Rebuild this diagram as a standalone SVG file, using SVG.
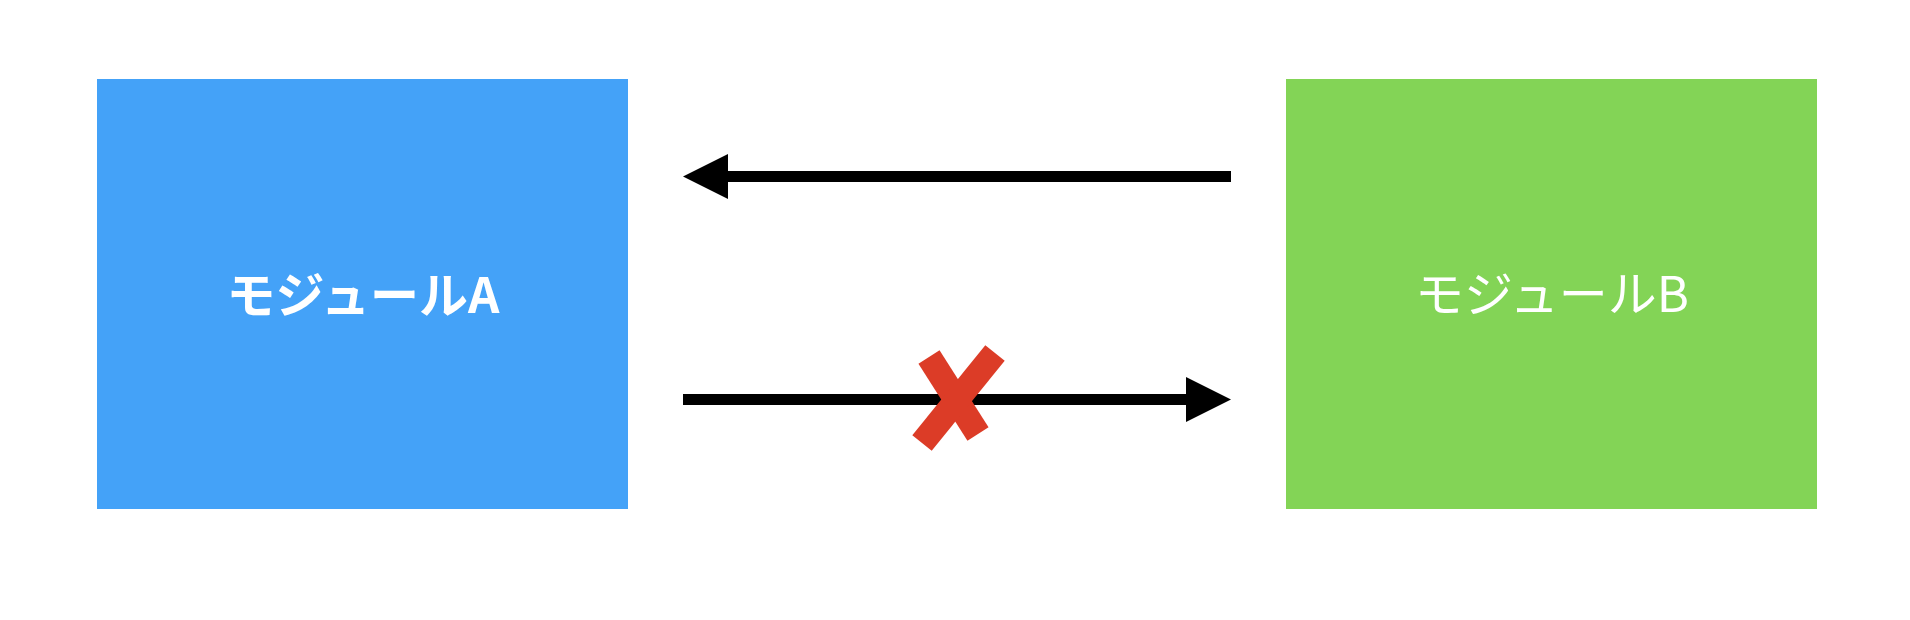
<svg xmlns="http://www.w3.org/2000/svg" width="1910" height="620" viewBox="0 0 1910 620">
<style>
.lbl{font-family:"Noto Sans CJK JP","Noto Sans",sans-serif;font-size:49px;fill:#ffffff;text-anchor:middle}
.edge{stroke:#000000;stroke-width:11;fill:none}
.head{fill:#000000}
.x{stroke:#DC3C27;stroke-width:25;stroke-linecap:butt;stroke-linejoin:round;fill:none}
</style>
<rect width="1910" height="620" fill="#ffffff"/>
<g id="moduleA">
<rect x="97" y="79" width="531" height="430" fill="#44A2F8"/>
<text class="lbl" x="363" y="313" font-weight="bold">モジュールA</text>
</g>
<g id="moduleB">
<rect x="1286" y="79" width="531" height="430" fill="#83D456"/>
<text class="lbl" x="1552" y="312">モジュールB</text>
</g>
<g id="connectors">
<line class="edge" x1="726" y1="176.5" x2="1231" y2="176.5"/>
<polygon class="head" points="683,176.5 728,154 728,199"/>
<line class="edge" x1="683" y1="399.5" x2="1188" y2="399.5"/>
<polygon class="head" points="1231,399.5 1186,377 1186,422"/>
</g>
<g id="cross">
<line class="x" x1="929" y1="357" x2="978" y2="434"/>
<line class="x" x1="995" y1="353" x2="922" y2="443"/>
</g>
</svg>
